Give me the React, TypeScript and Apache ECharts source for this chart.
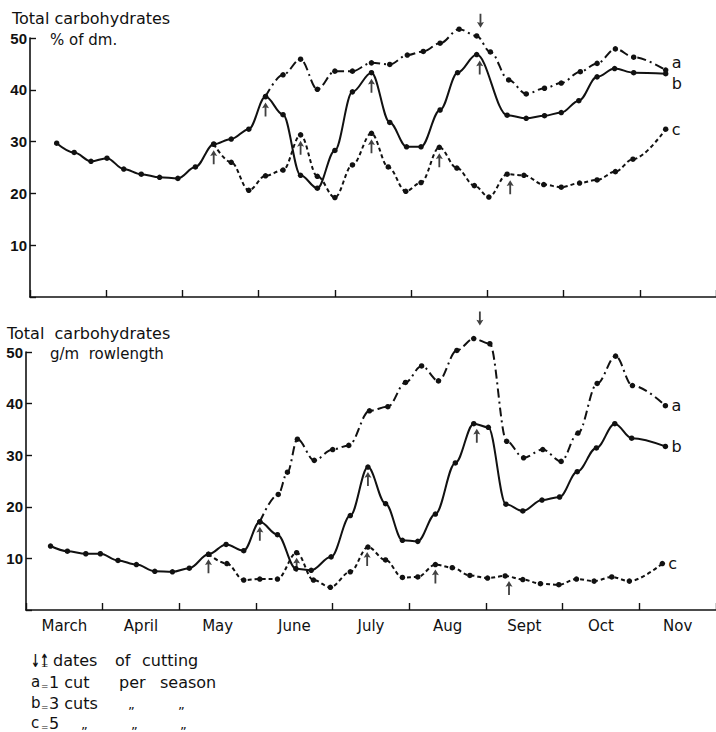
import React, { useEffect, useRef } from "react";
import * as echarts from "echarts";

// x values: months elapsed since 1 March (each month one unit), y: total carbohydrates
const months = ["March", "April", "May", "June", "July", "Aug", "Sept", "Oct", "Nov"];
const yValues = [0, 10, 20, 30, 40, 50];

// ---- upper panel: % of dry matter
const topA = [
  [3.09, 38.7], [3.32, 42.9], [3.55, 45.9], [3.77, 40.1], [4.0, 43.6], [4.23, 43.6], [4.48, 45.2],
  [4.72, 44.9], [4.95, 46.7], [5.16, 47.4], [5.38, 49.0], [5.63, 51.7], [5.86, 50.4], [6.04, 47.3],
  [6.28, 41.9], [6.51, 39.2], [6.75, 40.3], [6.97, 41.3], [7.22, 43.5], [7.44, 45.1], [7.68, 47.9],
  [7.92, 46.3], [8.34, 43.8],
];
const topB = [
  [0.35, 29.7], [0.58, 27.9], [0.8, 26.2], [1.01, 26.8], [1.23, 24.7], [1.46, 23.7], [1.7, 23.1],
  [1.94, 22.9], [2.17, 25.1], [2.41, 29.5], [2.64, 30.5], [2.87, 32.4], [3.09, 38.7], [3.32, 35.2],
  [3.55, 23.5], [3.77, 21.0], [4.0, 28.3], [4.23, 39.6], [4.48, 43.3], [4.72, 33.7], [4.94, 29.0],
  [5.13, 29.0], [5.38, 36.1], [5.61, 43.3], [5.86, 46.8], [6.26, 35.1], [6.51, 34.5], [6.75, 35.0],
  [6.97, 35.6], [7.2, 37.9], [7.44, 42.5], [7.67, 44.1], [7.92, 43.3], [8.34, 43.1],
];
const topC = [
  [2.41, 29.5], [2.64, 26.0], [2.87, 20.6], [3.09, 23.4], [3.32, 24.5], [3.55, 31.3], [3.77, 23.3],
  [4.0, 19.2], [4.23, 25.5], [4.48, 31.6], [4.7, 25.1], [4.93, 20.4], [5.13, 22.1], [5.37, 28.9],
  [5.6, 24.9], [5.83, 21.5], [6.02, 19.3], [6.26, 23.7], [6.48, 23.5], [6.74, 21.7], [6.97, 21.2],
  [7.21, 22.0], [7.44, 22.6], [7.68, 24.2], [7.91, 26.6], [8.34, 32.4],
];
const topCutsA = [[5.91, 51.8]];
const topCutsB = [[3.09, 38.7], [4.48, 43.3], [5.9, 46.8]];
const topCutsC = [[2.41, 29.5], [3.55, 31.3], [4.48, 31.6], [5.37, 28.9], [6.3, 23.7]];

// ---- lower panel: g per m rowlength
const botA = [
  [3.05, 17.1], [3.29, 22.4], [3.41, 26.7], [3.54, 33.1], [3.76, 29.0], [4.0, 31.1], [4.21, 31.9],
  [4.48, 38.6], [4.72, 39.4], [4.95, 44.1], [5.16, 47.3], [5.38, 44.4], [5.62, 50.3], [5.84, 52.6],
  [6.05, 51.6], [6.27, 32.7], [6.49, 29.5], [6.74, 31.1], [6.98, 28.8], [7.2, 34.3], [7.45, 43.9],
  [7.69, 49.2], [7.91, 43.5], [8.34, 39.6],
];
const botB = [
  [0.32, 12.4], [0.54, 11.4], [0.78, 10.9], [0.97, 10.9], [1.2, 9.6], [1.44, 8.8], [1.68, 7.5],
  [1.91, 7.4], [2.13, 8.1], [2.38, 10.8], [2.61, 12.7], [2.84, 11.5], [3.05, 17.1], [3.28, 14.6],
  [3.52, 8.0], [3.72, 7.7], [3.98, 10.3], [4.23, 18.3], [4.46, 27.7], [4.69, 20.6], [4.91, 13.5],
  [5.11, 13.3], [5.34, 18.6], [5.6, 28.5], [5.84, 36.1], [6.03, 35.4], [6.26, 20.5], [6.48, 19.2],
  [6.73, 21.3], [6.96, 21.9], [7.19, 26.8], [7.44, 31.4], [7.68, 36.1], [7.9, 33.3], [8.34, 31.7],
];
const botC = [
  [2.38, 10.8], [2.62, 9.0], [2.84, 5.8], [3.05, 6.0], [3.28, 6.0], [3.53, 11.1], [3.75, 5.8],
  [3.97, 4.4], [4.23, 7.4], [4.46, 12.2], [4.69, 9.7], [4.91, 6.3], [5.11, 6.4], [5.34, 8.8],
  [5.56, 8.2], [5.79, 6.7], [6.02, 6.2], [6.25, 6.6], [6.48, 5.9], [6.71, 5.1], [6.95, 4.9],
  [7.18, 6.0], [7.41, 5.6], [7.64, 6.4], [7.87, 5.6], [8.3, 9.0],
];
const botCutsA = [[5.92, 53.2]];
const botCutsB = [[3.05, 17.1], [4.46, 27.7], [5.88, 36.1]];
const botCutsC = [[2.38, 10.8], [3.53, 11.1], [4.45, 12.2], [5.34, 8.8], [6.3, 6.6]];

const INK = "#111";
const FONT = "DejaVu Sans";
const UP = "path://M5,0 L10,7 L6.3,6 L6.3,17 L3.7,17 L3.7,6 L0,7 Z";
const DOWN = "path://M3.7,0 L6.3,0 L6.3,11 L10,10 L5,17 L0,10 L3.7,11 Z";

function line(data: number[][], xi: number, yi: number, type: any, lbl: string, off: number[]) {
  return {
    type: "line",
    xAxisIndex: xi,
    yAxisIndex: yi,
    data,
    smooth: 0.35,
    smoothMonotone: "x",
    clip: false,
    symbol: "circle",
    symbolSize: 5.5,
    itemStyle: { color: INK },
    lineStyle: { color: INK, width: 2, type },
    endLabel: { show: true, formatter: lbl, color: INK, fontFamily: FONT, fontSize: 16, distance: 6, offset: off },
    z: 3,
  };
}

function arrows(data: number[][], xi: number, yi: number, up: boolean, offset: number) {
  return {
    type: "scatter",
    xAxisIndex: xi,
    yAxisIndex: yi,
    data,
    clip: false,
    symbol: up ? UP : DOWN,
    symbolSize: [7, 14],
    symbolOffset: [0, offset],
    itemStyle: { color: INK },
    z: 4,
  };
}

function valueX(gi: number) {
  return { type: "value", gridIndex: gi, min: 0, max: 9, show: false, position: "top" };
}
function catX(gi: number, labels: boolean) {
  return {
    type: "category",
    gridIndex: gi,
    position: "bottom",
    data: months,
    boundaryGap: true,
    axisLine: { show: true, onZero: false, lineStyle: { color: INK, width: 1.6 } },
    axisTick: { show: true, inside: true, length: 7, interval: 0, lineStyle: { color: INK, width: 1.4 } },
    axisLabel: { show: labels, interval: 0, color: INK, fontFamily: FONT, fontSize: 15, margin: 8 },
    splitLine: { show: false },
  };
}
function yAx(gi: number) {
  return {
    type: "value",
    gridIndex: gi,
    min: yValues[0],
    max: yValues[yValues.length - 1],
    interval: 10,
    axisLine: { show: true, onZero: false, lineStyle: { color: INK, width: 1.6 } },
    axisTick: { show: true, inside: true, length: 6, lineStyle: { color: INK, width: 1.4 } },
    axisLabel: {
      color: INK,
      fontFamily: "Liberation Sans",
      fontWeight: "bold",
      fontSize: 15,
      margin: 3,
      formatter: (v: number) => (v === 0 ? "" : String(v)),
    },
    splitLine: { show: false },
  };
}

function txt(x: number, y: number, s: string, size = 15, extra: any = {}) {
  return {
    type: "text",
    x,
    y,
    style: { text: s, fill: INK, font: `${size}px "${FONT}"`, textVerticalAlign: "middle", ...extra },
  };
}

export default function App() {
  const ref = useRef<HTMLDivElement>(null);
  useEffect(() => {
    const chart = echarts.init(ref.current!, null, { renderer: "svg" });
    const dashDot = [9, 4, 2, 4];
    const dashed = [4, 3];
    chart.setOption({
      animation: false,
      backgroundColor: "#fff",
      grid: [
        { left: 30, top: 38, width: 693, height: 259 },
        { left: 26, top: 352, width: 693, height: 258 },
      ],
      xAxis: [valueX(0), catX(0, false), valueX(1), catX(1, true)],
      yAxis: [yAx(0), yAx(1)],
      series: [
        line(topA, 0, 0, dashDot, "a", [0, -8]),
        line(topB, 0, 0, "solid", "b", [0, 10]),
        line(topC, 0, 0, dashed, "c", [0, 0]),
        arrows(topCutsA, 0, 0, false, -8),
        arrows(topCutsB, 0, 0, true, 13),
        arrows(topCutsC, 0, 0, true, 13),
        line(botA, 2, 1, dashDot, "a", [0, 0]),
        line(botB, 2, 1, "solid", "b", [0, 0]),
        line(botC, 2, 1, dashed, "c", [0, 0]),
        arrows(botCutsA, 2, 1, false, -17),
        arrows(botCutsB, 2, 1, true, 12),
        arrows(botCutsC, 2, 1, true, 12),
      ],
      graphic: [
        txt(12, 18, "Total carbohydrates", 16),
        txt(50, 40, "% of dm.", 15),
        txt(7, 333, "Total  carbohydrates", 16),
        txt(50, 354, "g/m  rowlength", 15),
        { ...txt(22, 660, "↓↑", 18, { font: `bold 18px "${FONT}"` }), scaleX: 0.6, originX: 22 },
        txt(41, 665, "=", 9),
        txt(53, 660, "dates", 16),
        txt(115, 660, "of", 16),
        txt(142, 660, "cutting", 16),
        txt(31, 682, "a", 15),
        txt(41, 686, "=", 9),
        txt(49, 682, "1 cut", 16),
        txt(119, 682, "per", 16),
        txt(160, 682, "season", 16),
        txt(31, 703, "b", 15),
        txt(41, 707, "=", 9),
        txt(49, 703, "3 cuts", 16),
        txt(128, 704, "\u201E", 13),
        txt(178, 704, "\u201E", 13),
        txt(31, 723, "c", 15),
        txt(41, 727, "=", 9),
        txt(49, 723, "5", 16),
        txt(81, 724, "\u201E", 13),
        txt(131, 724, "\u201E", 13),
        txt(180, 724, "\u201E", 13),
      ],
    });
    return () => chart.dispose();
  }, []);
  return (
    <div style={{ position: "absolute", left: 0, top: 0, width: 716, height: 732, overflow: "hidden", background: "#fff" }}>
      <div ref={ref} style={{ width: 716, height: 732 }} />
    </div>
  );
}
